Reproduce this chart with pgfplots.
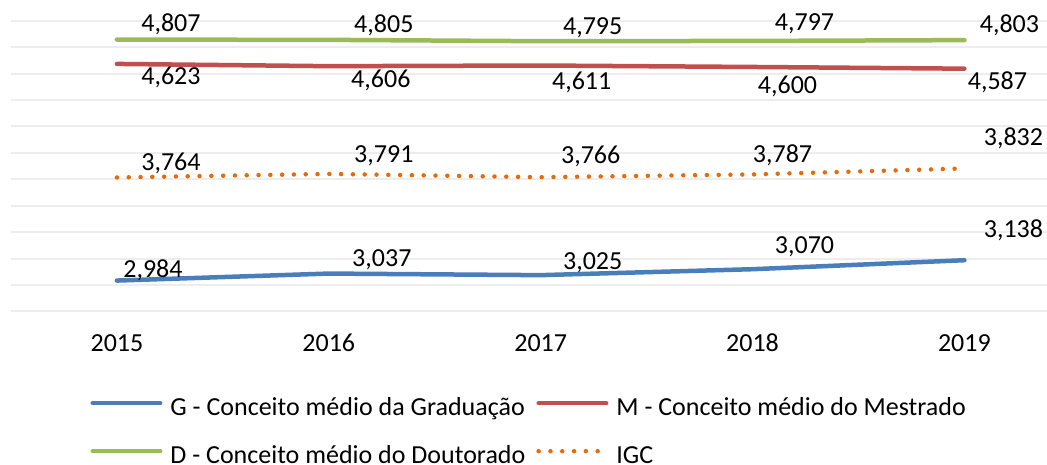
\documentclass[border=0pt]{standalone}
\usepackage{fontspec}
\setmainfont{Carlito}
\usepackage{pgfplots}
\pgfplotsset{compat=1.18}
\usepackage{pgfplotstable}
\definecolor{cG}{RGB}{74,126,187}
\definecolor{cM}{RGB}{192,80,77}
\definecolor{cD}{RGB}{155,187,89}
\definecolor{cI}{RGB}{228,108,10}
\definecolor{cgrid}{RGB}{237,237,237}

\pgfplotstableread{
x y dx dy
0 2.984 36 11
1 3.037 53 15
2 3.025 52 14
3 3.070 52 24
4 3.138 49 31
}\tabG
\pgfplotstableread{
x y dx dy
0 4.623 54 -12
1 4.606 52 -13
2 4.611 41 -16
3 4.600 35 -18
4 4.587 33 -13
}\tabM
\pgfplotstableread{
x y dx dy
0 4.807 54 16
1 4.805 55 16
2 4.795 52 15
3 4.797 52 19
4 4.803 45 16
}\tabD
\pgfplotstableread{
x y dx dy
0 3.764 54 15
1 3.791 55 20
2 3.766 50 22
3 3.787 30 20
4 3.832 49 31
}\tabI

\pgfplotsset{
  lbl/.style={
    nodes near coords={\pgfmathprintnumber[fixed,fixed zerofill,precision=3,use comma,assume math mode=true]{\pgfplotspointmeta}},
    visualization depends on={\thisrow{dx}\as\dx},
    visualization depends on={\thisrow{dy}\as\dy},
    every node near coord/.append style={anchor=center, inner sep=0pt, text height=16.4pt, text depth=0pt, xshift=\dx pt, yshift=\dy pt, color=black},
  }
}

\begin{document}
\fontsize{26}{31}\selectfont
\begin{tikzpicture}
\useasboundingbox (-11pt,-153.5pt) rectangle (1036pt,311.5pt);
\begin{axis}[
 scale only axis, width=1036pt, height=290.8pt,
 xmin=-0.5, xmax=4.39, ymin=2.75, ymax=4.95,
 xtick={0,1,2,3,4}, xticklabels={2015,2016,2017,2018,2019},
 ytick={2.75,2.95,3.15,3.35,3.55,3.75,3.95,4.15,4.35,4.55,4.75,4.95},
 yticklabels={},
 ymajorgrids, grid style={color=cgrid, line width=2pt},
 axis line style={draw=none}, major tick length=0pt,
 xticklabel style={anchor=base, inner sep=0pt, text depth=0pt, yshift=-40pt},
 clip=false,
 legend columns=2,
 legend cell align=left,
 legend style={at={(axis description cs:0.0765,-0.294)}, anchor=north west,
   draw=none, fill=none, inner sep=0pt, row sep=30pt,
   nodes={inner sep=0pt, text height=18pt, text depth=0pt},
   /tikz/every odd column/.append style={column sep=8pt},
   /tikz/every even column/.append style={column sep=11pt}},
 legend image code/.code={\draw[#1] (0pt,3pt) -- (67.5pt,3pt);},
]
\addplot[cG, line width=4.5pt, line cap=round, line join=round, lbl] table[x=x,y=y]{\tabG};
\addlegendentry{G - Conceito médio da Graduação}
\addplot[cM, line width=4.5pt, line cap=round, line join=round, lbl] table[x=x,y=y]{\tabM};
\addlegendentry{M - Conceito médio do Mestrado}
\addplot[cD, line width=4.5pt, line cap=round, line join=round, lbl] table[x=x,y=y]{\tabD};
\addlegendentry{D - Conceito médio do Doutorado}
\addplot[cI, line width=4.5pt, line cap=round, dash pattern=on 0pt off 11.8pt, lbl] table[x=x,y=y]{\tabI};
\addlegendentry{IGC}
\end{axis}
\end{tikzpicture}
\end{document}
